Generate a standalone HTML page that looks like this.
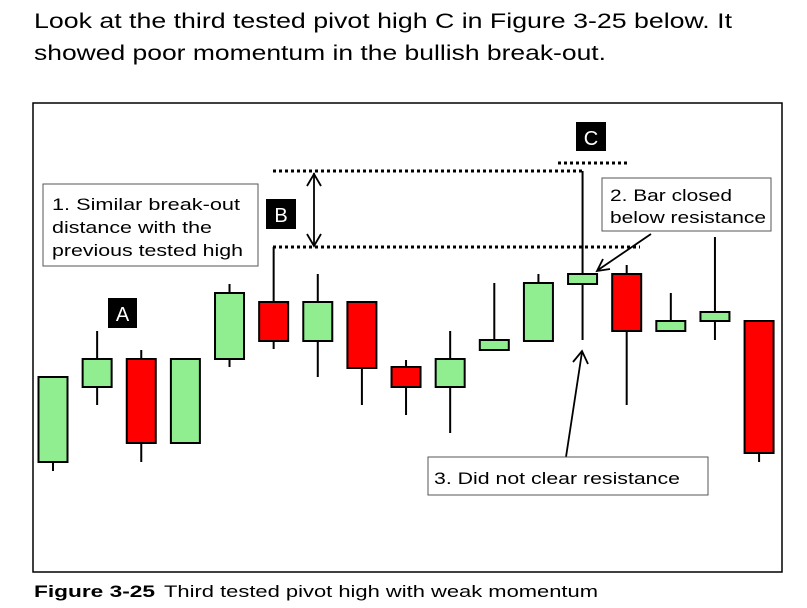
<!DOCTYPE html>
<html><head><meta charset="utf-8"><style>
html,body{margin:0;padding:0;background:#fff;}
svg{display:block;font-family:"Liberation Sans",sans-serif;}
</style></head><body>
<svg id="chart" width="807" height="608" viewBox="0 0 807 608">
<text x="34" y="28" font-size="21" fill="#000" textLength="698" lengthAdjust="spacingAndGlyphs">Look at the third tested pivot high C in Figure 3-25 below. It</text>
<text x="34" y="60" font-size="21" fill="#000" textLength="572" lengthAdjust="spacingAndGlyphs">showed poor momentum in the bullish break-out.</text>
<rect x="33" y="103" width="749" height="469" fill="#fff" stroke="#000" stroke-width="1.5"/>
<g id="candles"></g>
<g stroke="#000" stroke-width="3" stroke-dasharray="3,3">
<line x1="273" y1="171" x2="582" y2="171"/>
<line x1="558" y1="163" x2="627" y2="163"/>
<line x1="273" y1="247" x2="640" y2="247"/>
</g>
<g stroke="#000" stroke-width="1.8" fill="none">
<line x1="314" y1="173" x2="314" y2="246"/>
<polyline points="307,186 314,174 321,186"/>
<polyline points="307,234 314,246 321,234"/>
</g>
<g>
<rect x="43" y="184" width="215" height="82" fill="#fff" stroke="#555" stroke-width="1"/>
<text x="52" y="210" font-size="17" textLength="188" lengthAdjust="spacingAndGlyphs">1. Similar break-out</text>
<text x="52" y="233" font-size="17" textLength="160" lengthAdjust="spacingAndGlyphs">distance with the</text>
<text x="52" y="256" font-size="17" textLength="191" lengthAdjust="spacingAndGlyphs">previous tested high</text>
</g>
<g><rect x="108" y="298" width="29" height="30" fill="#000"/><text x="122.5" y="321" font-size="20" fill="#fff" text-anchor="middle">A</text></g>
<g><rect x="266" y="199" width="30" height="30" fill="#000"/><text x="281" y="222" font-size="20" fill="#fff" text-anchor="middle">B</text></g>
<g><rect x="576" y="122" width="30" height="29" fill="#000"/><text x="591" y="145" font-size="20" fill="#fff" text-anchor="middle">C</text></g>
<g>
<rect x="602" y="178" width="169" height="53" fill="#fff" stroke="#555" stroke-width="1"/>
<text x="610" y="201" font-size="17" textLength="122" lengthAdjust="spacingAndGlyphs">2. Bar closed</text>
<text x="610" y="223" font-size="17" textLength="156" lengthAdjust="spacingAndGlyphs">below resistance</text>
<g stroke="#000" stroke-width="1.8" fill="none"><line x1="651" y1="234" x2="598" y2="270"/><polyline points="603,259 597,271 610,269"/></g>
</g>
<g>
<g stroke="#000" stroke-width="1.8" fill="none"><line x1="566" y1="457" x2="582" y2="352"/><polyline points="573,362 582,351 588,364"/></g>
<rect x="428" y="457" width="280" height="38" fill="#fff" stroke="#555" stroke-width="1"/>
<text x="434" y="484" font-size="17" textLength="246" lengthAdjust="spacingAndGlyphs">3. Did not clear resistance</text>
</g>
<text x="34" y="597" font-size="17" font-weight="bold" textLength="121" lengthAdjust="spacingAndGlyphs">Figure 3-25</text>
<text x="164" y="597" font-size="17" textLength="434" lengthAdjust="spacingAndGlyphs">Third tested pivot high with weak momentum</text>
</svg>
<script>
// price units (higher = higher on chart)
const opens  = [38,113,141,57,141,198,159,198,133,113,150,159,216,226,169,179,179];
const closes = [123,141,57,141,207,159,198,132,113,141,160,217,226,169,179,188,47];
const highs  = [123,169,150,141,216,253,226,198,140,169,217,226,329,235,207,263,179];
const lows   = [29,95,38,57,133,151,123,95,85,67,150,159,160,95,169,160,38];
const svgNS = "http://www.w3.org/2000/svg";
const g = document.getElementById('candles');
const x0 = 53, step = 44.13, bw = 29;
function xPos(i){ return x0 + i*step; }
function yPos(v){ return 500 - v; }
for (let i = 0; i < opens.length; i++) {
  const cx = xPos(i);
  const up = closes[i] >= opens[i];
  const wick = document.createElementNS(svgNS,'line');
  
  
  wick.setAttribute('x1', cx); wick.setAttribute('x2', cx);
  wick.setAttribute('y1', yPos(highs[i])); wick.setAttribute('y2', yPos(lows[i]));
  wick.setAttribute('stroke', '#000'); wick.setAttribute('stroke-width', '2');
  g.appendChild(wick);
  const top = yPos(Math.max(opens[i], closes[i]));
  const bot = yPos(Math.min(opens[i], closes[i]));
  const r = document.createElementNS(svgNS,'rect');
  
  
  r.setAttribute('x', cx - bw/2); r.setAttribute('y', top);
  r.setAttribute('width', bw); r.setAttribute('height', Math.max(bot - top, 1));
  r.setAttribute('fill', up ? '#90ee90' : '#ff0000');
  r.setAttribute('stroke', '#000'); r.setAttribute('stroke-width', '2');
  g.appendChild(r);
}
</script>
</body></html>
